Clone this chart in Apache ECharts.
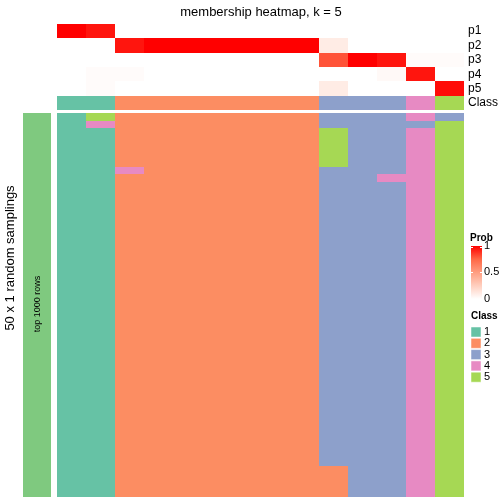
<!DOCTYPE html>
<html><head><meta charset="utf-8">
<script src="https://cdn.jsdelivr.net/npm/echarts@6/dist/echarts.min.js"></script>
<style>html,body{margin:0;padding:0;background:#fff}#c{width:504px;height:504px}</style>
</head><body><div id="c"></div>
<script>
// ---- data ----
var columns = ['c1','c2','c3','c4','c5','c6','c7','c8','c9','c10','c11','c12','c13','c14'];
var probRows = ['p1','p2','p3','p4','p5'];
var p1 = [1, 0.95, 0, 0, 0, 0, 0, 0, 0, 0, 0, 0, 0, 0];
var p2 = [0, 0, 0.95, 1, 1, 1, 1, 1, 1, 0.1, 0, 0, 0, 0];
var p3 = [0, 0, 0, 0, 0, 0, 0, 0, 0, 0.8, 1, 0.95, 0.02, 0.02];
var p4 = [0, 0.02, 0.02, 0, 0, 0, 0, 0, 0, 0, 0, 0.03, 0.95, 0];
var p5 = [0, 0.02, 0, 0, 0, 0, 0, 0, 0, 0.1, 0, 0, 0, 0.97];
var classRow = [1, 1, 2, 2, 2, 2, 2, 2, 2, 3, 3, 3, 4, 5];
var samplings = [
 [1,5,2,2,2,2,2,2,2,3,3,3,4,3],
 [1,4,2,2,2,2,2,2,2,3,3,3,3,5],
 [1,1,2,2,2,2,2,2,2,5,3,3,4,5],
 [1,1,2,2,2,2,2,2,2,5,3,3,4,5],
 [1,1,2,2,2,2,2,2,2,5,3,3,4,5],
 [1,1,2,2,2,2,2,2,2,5,3,3,4,5],
 [1,1,2,2,2,2,2,2,2,5,3,3,4,5],
 [1,1,4,2,2,2,2,2,2,3,3,3,4,5],
 [1,1,2,2,2,2,2,2,2,3,3,4,4,5],
 [1,1,2,2,2,2,2,2,2,3,3,3,4,5],
 [1,1,2,2,2,2,2,2,2,3,3,3,4,5],
 [1,1,2,2,2,2,2,2,2,3,3,3,4,5],
 [1,1,2,2,2,2,2,2,2,3,3,3,4,5],
 [1,1,2,2,2,2,2,2,2,3,3,3,4,5],
 [1,1,2,2,2,2,2,2,2,3,3,3,4,5],
 [1,1,2,2,2,2,2,2,2,3,3,3,4,5],
 [1,1,2,2,2,2,2,2,2,3,3,3,4,5],
 [1,1,2,2,2,2,2,2,2,3,3,3,4,5],
 [1,1,2,2,2,2,2,2,2,3,3,3,4,5],
 [1,1,2,2,2,2,2,2,2,3,3,3,4,5],
 [1,1,2,2,2,2,2,2,2,3,3,3,4,5],
 [1,1,2,2,2,2,2,2,2,3,3,3,4,5],
 [1,1,2,2,2,2,2,2,2,3,3,3,4,5],
 [1,1,2,2,2,2,2,2,2,3,3,3,4,5],
 [1,1,2,2,2,2,2,2,2,3,3,3,4,5],
 [1,1,2,2,2,2,2,2,2,3,3,3,4,5],
 [1,1,2,2,2,2,2,2,2,3,3,3,4,5],
 [1,1,2,2,2,2,2,2,2,3,3,3,4,5],
 [1,1,2,2,2,2,2,2,2,3,3,3,4,5],
 [1,1,2,2,2,2,2,2,2,3,3,3,4,5],
 [1,1,2,2,2,2,2,2,2,3,3,3,4,5],
 [1,1,2,2,2,2,2,2,2,3,3,3,4,5],
 [1,1,2,2,2,2,2,2,2,3,3,3,4,5],
 [1,1,2,2,2,2,2,2,2,3,3,3,4,5],
 [1,1,2,2,2,2,2,2,2,3,3,3,4,5],
 [1,1,2,2,2,2,2,2,2,3,3,3,4,5],
 [1,1,2,2,2,2,2,2,2,3,3,3,4,5],
 [1,1,2,2,2,2,2,2,2,3,3,3,4,5],
 [1,1,2,2,2,2,2,2,2,3,3,3,4,5],
 [1,1,2,2,2,2,2,2,2,3,3,3,4,5],
 [1,1,2,2,2,2,2,2,2,3,3,3,4,5],
 [1,1,2,2,2,2,2,2,2,3,3,3,4,5],
 [1,1,2,2,2,2,2,2,2,3,3,3,4,5],
 [1,1,2,2,2,2,2,2,2,3,3,3,4,5],
 [1,1,2,2,2,2,2,2,2,3,3,3,4,5],
 [1,1,2,2,2,2,2,2,2,3,3,3,4,5],
 [1,1,2,2,2,2,2,2,2,2,3,3,4,5],
 [1,1,2,2,2,2,2,2,2,2,3,3,4,5],
 [1,1,2,2,2,2,2,2,2,2,3,3,4,5],
 [1,1,2,2,2,2,2,2,2,2,3,3,4,5]
];
var classLabels = ['1','2','3','4','5'];
var probTicks = ['1','0.5','0'];

// ---- styles ----
var classColors = ['#66C2A5','#FC8D62','#8DA0CB','#E78AC3','#A6D854'];
var probColors = ['#FFFFFF','#FFCFBF','#FF9E81','#FF6846','#FF0000'];
var FONT = '"Liberation Sans", Arial, sans-serif';

var probData = [];
[p1,p2,p3,p4,p5].forEach(function(arr, r){
  arr.forEach(function(v, c){ probData.push([c, r, v]); });
});
var classData = classRow.map(function(v, c){ return [c, 0, v]; });
var mainData = [];
samplings.forEach(function(row, r){
  row.forEach(function(v, c){ mainData.push([c, r, v]); });
});

var classPieces = classLabels.map(function(l, i){ return {value: i+1, color: classColors[i]}; });

function cellRender(params, api){
  var p = api.coord([api.value(0), api.value(1)]);
  var s = api.size([1, 1]);
  var x0 = Math.round(p[0] - s[0]/2), x1 = Math.round(p[0] + s[0]/2);
  var y0 = Math.round(p[1] - s[1]/2), y1 = Math.round(p[1] + s[1]/2);
  return {type:'rect', shape:{x:x0, y:y0, width:x1-x0, height:y1-y0},
          style:{fill:api.visual('color')}};
}
function cellSeries(xi, yi, data){
  return {type:'custom', xAxisIndex:xi, yAxisIndex:yi, data:data, renderItem:cellRender,
          encode:{x:0, y:1}, silent:true};
}

var hidden = {show:false};
var chart = echarts.init(document.getElementById('c'), null, {renderer:'canvas'});
var L = 57, W = 407;
var graphics = [
  {type:'text', z:100, style:{x:261, y:12, text:'membership heatmap, k = 5', font:'13px '+FONT, fill:'#000', textAlign:'center', textVerticalAlign:'middle'}},
  {type:'text', z:100, style:{text:'50 x 1 random samplings', font:'13px '+FONT, fill:'#000', textAlign:'center', textVerticalAlign:'middle'}, x:10, y:258, rotation:Math.PI/2},
  {type:'text', z:100, style:{text:'top 1000 rows', font:'9px '+FONT, fill:'#000', textAlign:'center', textVerticalAlign:'middle'}, x:38, y:304, rotation:Math.PI/2},
  {type:'text', z:100, style:{x:470, y:238, text:'Prob', font:'bold 10px '+FONT, fill:'#000', textVerticalAlign:'middle'}},
  {type:'rect', z:100, shape:{x:471, y:246, width:11, height:53}, style:{fill:new echarts.graphic.LinearGradient(0,0,0,1,[
    {offset:0,color:probColors[4]},{offset:0.25,color:probColors[3]},{offset:0.5,color:probColors[2]},{offset:0.75,color:probColors[1]},{offset:1,color:probColors[0]}])}},
  {type:'line', z:101, shape:{x1:471,y1:247.5,x2:473,y2:247.5}, style:{stroke:'#fff',lineWidth:1}},
  {type:'line', z:101, shape:{x1:480,y1:247.5,x2:482,y2:247.5}, style:{stroke:'#fff',lineWidth:1}},
  {type:'line', z:101, shape:{x1:471,y1:272.5,x2:473,y2:272.5}, style:{stroke:'#fff',lineWidth:1}},
  {type:'line', z:101, shape:{x1:480,y1:272.5,x2:482,y2:272.5}, style:{stroke:'#fff',lineWidth:1}},
  {type:'text', z:100, style:{x:471, y:316, text:'Class', font:'bold 10px '+FONT, fill:'#000', textVerticalAlign:'middle'}}
];
var tickY = [246, 272, 299];
probTicks.forEach(function(t, i){
  graphics.push({type:'text', z:100, style:{x:484, y:tickY[i], text:t, font:'11px '+FONT, fill:'#000', textVerticalAlign:'middle'}});
});
classLabels.forEach(function(t, i){
  var cy = 332 + i*11.3;
  graphics.push({type:'rect', z:100, shape:{x:471, y:cy-5, width:10, height:10}, style:{fill:classColors[i], stroke:'#fff', lineWidth:0.5}});
  graphics.push({type:'text', z:100, style:{x:484, y:cy, text:t, font:'11px '+FONT, fill:'#000', textVerticalAlign:'middle'}});
});

chart.setOption({
  animation:false,
  backgroundColor:'#fff',
  grid:[
    {left:L, top:24, width:W, height:71.7},
    {left:L, top:95.7, width:W, height:14.3},
    {left:L, top:113, width:W, height:384},
    {left:23, top:113, width:28, height:384}
  ],
  xAxis:[
    {type:'category', gridIndex:0, data:columns, show:false},
    {type:'category', gridIndex:1, data:columns, show:false},
    {type:'category', gridIndex:2, data:columns, show:false},
    {type:'category', gridIndex:3, data:['x'], show:false}
  ],
  yAxis:[
    {type:'category', gridIndex:0, data:probRows, inverse:true, position:'right',
      axisLine:hidden, axisTick:hidden, splitLine:hidden,
      axisLabel:{interval:0, margin:4, fontSize:12, color:'#000', fontFamily:FONT}},
    {type:'category', gridIndex:1, data:['Class'], position:'right',
      axisLine:hidden, axisTick:hidden, splitLine:hidden,
      axisLabel:{interval:0, margin:4, fontSize:12, color:'#000', fontFamily:FONT}},
    {type:'category', gridIndex:2, data:samplings.map(function(_, i){return 's'+(i+1);}), inverse:true, show:false},
    {type:'category', gridIndex:3, data:['y'], show:false}
  ],
  visualMap:[
    {type:'continuous', min:0, max:1, dimension:2, seriesIndex:0, show:false, inRange:{color:probColors}},
    {type:'piecewise', dimension:2, seriesIndex:[1,2], show:false, pieces:classPieces},
    {type:'piecewise', dimension:2, seriesIndex:3, show:false, pieces:[{value:1, color:'#7FC97F'}]}
  ],
  series:[
    cellSeries(0, 0, probData),
    cellSeries(1, 1, classData),
    cellSeries(2, 2, mainData),
    cellSeries(3, 3, [[0, 0, 1]])
  ],
  graphic:graphics
});
</script></body></html>
